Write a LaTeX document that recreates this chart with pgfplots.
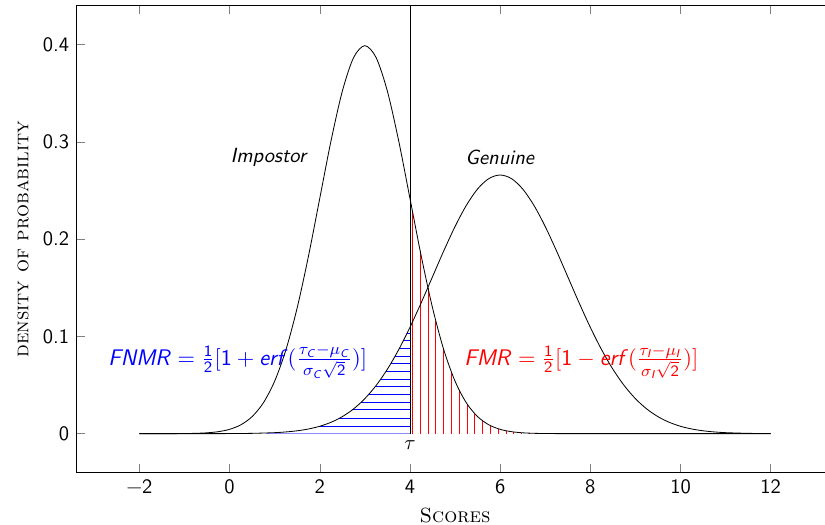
\documentclass[border=0pt]{standalone}
\usepackage{amsmath}
\usepackage{pgfplots}
\usepackage{pgfplotstable}
\pgfplotsset{compat=1.18}

\newcommand{\si}[1]{\textsf{\textit{#1}}}

% impostor scores, N(3,1)
\pgfplotstableread{
x y
-2 0.0000015
-1.75 0.000005
-1.5 0.000016
-1.25 0.000048
-1 0.000134
-0.75 0.000353
-0.5 0.000873
-0.25 0.002029
0 0.004432
0.25 0.009094
0.5 0.017528
0.75 0.031740
1 0.053991
1.25 0.086277
1.5 0.129518
1.75 0.182649
2 0.241971
2.25 0.301137
2.5 0.352065
2.75 0.386668
3 0.398942
3.25 0.386668
3.5 0.352065
3.75 0.301137
4 0.241971
4.25 0.182649
4.5 0.129518
4.75 0.086277
5 0.053991
5.25 0.031740
5.5 0.017528
5.75 0.009094
6 0.004432
6.25 0.002029
6.5 0.000873
6.75 0.000353
7 0.000134
7.5 0.000016
8 0.0000015
9 0
10 0
11 0
12 0
}\impostor

% genuine scores, N(6,1.5)
\pgfplotstableread{
x y
-2 0.0000002
-1.5 0.000001
-1 0.000005
-0.5 0.000022
0 0.000089
0.5 0.000320
1 0.001028
1.25 0.001768
1.5 0.002955
1.75 0.004804
2 0.007598
2.25 0.011686
2.5 0.017482
2.75 0.025436
3 0.035994
3.25 0.049537
3.5 0.066318
3.75 0.086346
4 0.109340
4.25 0.134671
4.5 0.161314
4.75 0.187941
5 0.212965
5.25 0.234711
5.5 0.251589
5.75 0.262293
6 0.265962
6.25 0.262293
6.5 0.251589
6.75 0.234711
7 0.212965
7.25 0.187941
7.5 0.161314
7.75 0.134671
8 0.109340
8.25 0.086346
8.5 0.066318
8.75 0.049537
9 0.035994
9.25 0.025436
9.5 0.017482
9.75 0.011686
10 0.007598
10.25 0.004804
10.5 0.002955
10.75 0.001768
11 0.001028
11.5 0.000320
12 0.000089
}\genuine

% FMR hatching: vertical strokes under the impostor curve, right of tau
\pgfplotstableread{
x y
4.056 0.2284
4.229 0.1875
4.402 0.1493
4.575 0.1154
4.748 0.0866
4.921 0.0630
5.094 0.0445
5.267 0.03054
5.440 0.02033
5.613 0.01313
5.786 0.00823
5.959 0.00501
6.132 0.00296
6.305 0.00169
6.478 0.00094
6.651 0.00051
6.824 0.00027
}\fmrhatch

% FNMR hatching: horizontal strokes from the genuine curve to tau
\pgfplotstableread{
x y
1.993 0.0075
4 0.0075
nan nan
2.431 0.0157
4 0.0157
nan nan
2.721 0.0244
4 0.0244
nan nan
2.918 0.0322
4 0.0322
nan nan
3.082 0.0401
4 0.0401
nan nan
3.224 0.0480
4 0.0480
nan nan
3.349 0.0558
4 0.0558
nan nan
3.465 0.0638
4 0.0638
nan nan
3.571 0.0717
4 0.0717
nan nan
3.669 0.0795
4 0.0795
nan nan
3.762 0.0874
4 0.0874
nan nan
3.851 0.0953
4 0.0953
nan nan
3.935 0.1031
4 0.1031
}\fnmrhatch

\begin{document}
\begin{tikzpicture}
\begin{axis}[scale only axis,width=369.5pt,height=227.7pt,
  xmin=-3.4,xmax=13.4,ymin=-0.04,ymax=0.44,
  xtick={-2,0,2,4,6,8,10,12},ytick={0,0.1,0.2,0.3,0.4},
  xticklabels={\textminus2,0,2,4,6,8,10,12},
  yticklabels={0,0.1,0.2,0.3,0.4},
  ticklabel style={font=\sffamily},
  unbounded coords=jump,
  xlabel={\textsc{Scores}},ylabel={\textsc{density of probability}}]
\addplot[blue!45,line width=0.5pt] coordinates {(0.8,0) (4,0)};
\addplot[blue,line width=0.5pt] table {\fnmrhatch};
\addplot[red,ycomb,line width=0.5pt] table {\fmrhatch};
\addplot[black,smooth] table {\impostor};
\addplot[black,smooth] table {\genuine};
\addplot[black] coordinates {(4,0) (4,0.44)};
\node at (axis cs:0.88,0.284) {\si{Impostor}};
\node at (axis cs:6.0,0.284) {\si{Genuine}};
\node[blue,font=\fontsize{11}{13}\selectfont] at (axis cs:0.18,0.074)
  {$\si{FNMR} = \frac{\textsf{1}}{\textsf{2}}[\textsf{1} + \si{erf}(\frac{\tau_{\si{C}} - \mu_{\si{C}}}{\sigma_{\si{C}}\sqrt{\textsf{2}}})]$};
\node[red,font=\fontsize{11}{13}\selectfont] at (axis cs:7.8,0.074)
  {$\si{FMR} = \frac{\textsf{1}}{\textsf{2}}[\textsf{1} - \si{erf}(\frac{\tau_{\si{I}} - \mu_{\si{I}}}{\sigma_{\si{I}}\sqrt{\textsf{2}}})]$};
\node at (axis cs:4,-0.012) {$\tau$};
\end{axis}
\pgfresetboundingbox
\path[use as bounding box] ([xshift=-37.2pt,yshift=-25.1pt]current axis.south west)
  rectangle ([xshift=365.2pt,yshift=2.8pt]current axis.north west);
\end{tikzpicture}
\end{document}
